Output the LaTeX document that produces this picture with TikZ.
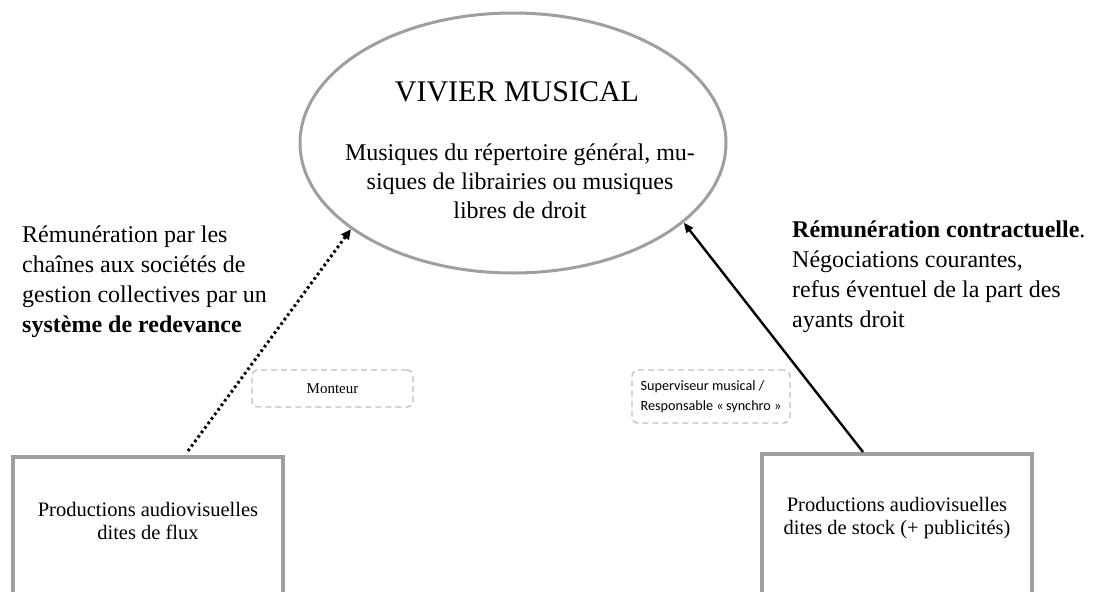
\documentclass[tikz,border=0pt]{standalone}
\usepackage{fontspec}
\setmainfont{Liberation Serif}
\newfontfamily\calibrifont{Carlito}
\usepackage{tikz}
\usetikzlibrary{arrows.meta,positioning,calc,shapes.geometric}

\begin{document}
\begin{tikzpicture}[
  x=1pt, y=-1pt,
  pool/.style={ellipse, draw=gray!75, line width=3pt, minimum width=426pt, minimum height=260pt, inner sep=0pt},
  prodbox/.style={draw=gray!75, line width=3.5pt, minimum width=270pt, minimum height=200pt, anchor=north, inner sep=0pt},
  prodtxt/.style={font=\fontsize{20.5}{22.5}\selectfont, align=center, inner sep=0pt},
  rolebox/.style={draw=gray!50, dash pattern=on 6pt off 4pt, rounded corners=6pt, line width=1.3pt, inner sep=0pt},
  remark/.style={font=\fontsize{24}{30}\selectfont, align=left, anchor=north west, inner sep=0pt},
  royalty/.style={draw=black, line width=3pt, dash pattern=on 2.6pt off 3pt, -{Triangle[length=10pt,width=9pt]}},
  contract/.style={draw=black, line width=2.4pt, -{Triangle[length=10pt,width=8pt]}}
]
  \clip (0,0) rectangle (1093,592);
  \fill[white] (0,0) rectangle (1093,592);

  % music pool
  \node[pool] (vivier) at (513,143) {};
  \node[font=\fontsize{30}{34}\selectfont, inner sep=0pt] (titre) at (517,92) {VIVIER MUSICAL};
  \node[font=\fontsize{24}{29}\selectfont, align=center, inner sep=0pt] (repertoire) at (520,181)
    {Musiques du répertoire général, mu-\\siques de librairies ou musiques\\libres de droit};

  % productions
  \node[prodbox] (fluxbox) at (148,455) {};
  \node[prodtxt] (fluxtxt) at (148,521) {Productions audiovisuelles\\dites de flux};
  \node[prodbox] (stockbox) at (897,452) {};
  \node[prodtxt] (stocktxt) at (897,518) {Productions audiovisuelles\\dites de stock (+ publicités)};

  % roles
  \node[rolebox, minimum width=161pt, minimum height=37pt, font=\fontsize{15}{17}\selectfont] (monteur) at (332.5,388.5) {Monteur};
  \node[rolebox, minimum width=158pt, minimum height=53pt, align=left, font=\calibrifont\fontsize{14.2}{20}\selectfont] (synchro) at (711,396.5)
    {Superviseur musical /\\Responsable «\,synchro~»};

  % remuneration arrows
  \coordinate (fluxtail) at ($(fluxbox.north)+(40,-4)$);
  \coordinate (stocktail) at ($(stockbox.north)+(-34,0)$);
  \draw[royalty] (fluxtail) -- (vivier.208);
  \draw[contract] (stocktail) -- (vivier.335);

  % notes
  \node[remark] (redevance) at (22,226) {Rémunération par les\\chaînes aux sociétés de\\gestion collectives par un\\\textbf{système de redevance}};
  \node[remark] (contrat) at (792,221) {\textbf{Rémunération contractuelle}.\\Négociations courantes,\\refus éventuel de la part des\\ayants droit};
\end{tikzpicture}
\end{document}
